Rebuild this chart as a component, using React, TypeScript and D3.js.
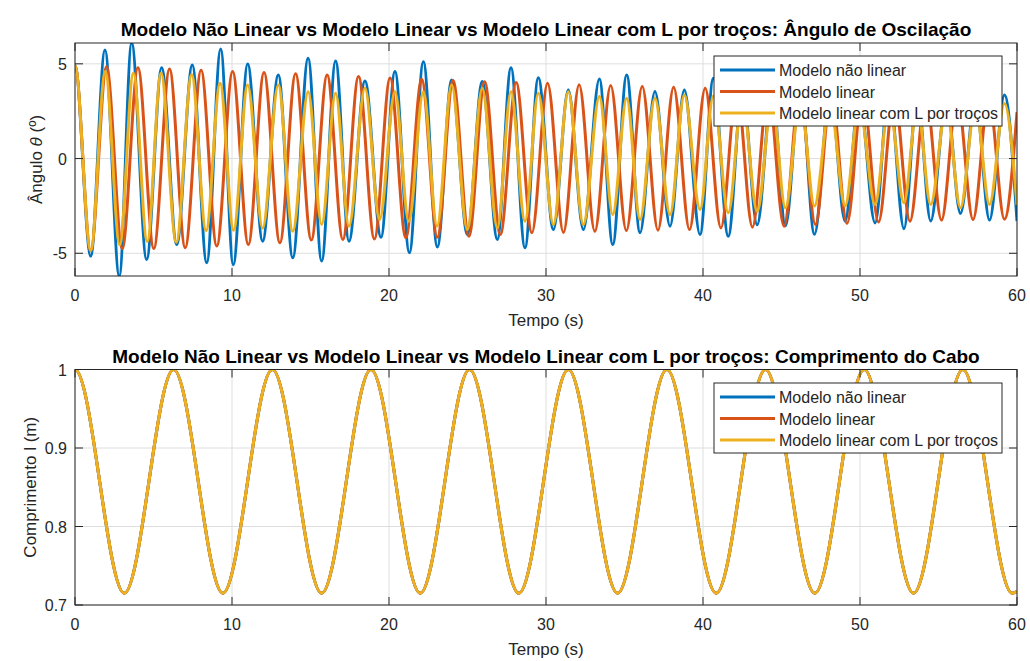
import React from 'react';
import * as d3 from 'd3';

// ---------- data ----------
const timeTicks = [0, 10, 20, 30, 40, 50, 60];
const angleTicks = [-5, 0, 5];
const lengthTicks = [0.7, 0.8, 0.9, 1];
const lengthTickLabels = ['0.7', '0.8', '0.9', '1'];
const seriesNames = ['Modelo não linear', 'Modelo linear', 'Modelo linear com L por troços'];
const seriesColors = ['#0072BD', '#D95319', '#EDB120'];

const topTitle = 'Modelo Não Linear vs Modelo Linear vs Modelo Linear com L por troços: Ângulo de Oscilação';
const bottomTitle = 'Modelo Não Linear vs Modelo Linear vs Modelo Linear com L por troços: Comprimento do Cabo';

// extrema (time s, angle º)
const nonLinearAngle: [number, number][] = [
  [0, 4.9], [1.0, -5.15], [1.91, 5.73], [2.82, -6.2], [3.61, 6.1], [4.56, -5.33], [5.52, 4.8],
  [6.48, -4.54], [7.47, 4.94], [8.39, -5.5], [9.28, 5.78], [10.08, -5.6], [11.0, 4.99],
  [11.95, -4.36], [12.95, 4.41], [13.87, -5.24], [14.85, 5.29], [15.71, -5.41], [16.6, 5.15],
  [17.45, -4.36], [18.47, 4.1], [19.49, -4.15], [20.38, 4.59], [21.3, -4.97], [22.19, 5.11],
  [23.08, -4.67], [23.99, 4.15], [24.99, -4.0], [25.94, 4.07], [26.9, -4.27], [27.77, 4.8],
  [28.66, -4.71], [29.51, 4.27], [30.47, -3.75], [31.42, 3.62], [32.38, -3.75], [33.4, 4.2],
  [34.25, -4.54], [35.14, 4.41], [35.99, -3.92], [36.94, 3.54], [37.9, -3.57], [38.81, 3.62],
  [39.81, -4.01], [40.66, 4.24], [41.61, -4.1], [42.5, 3.7], [43.45, -3.5], [44.4, 3.6],
  [45.25, -3.55], [46.2, 3.9], [47.1, -4.0], [48.1, 3.6], [49.05, -3.3], [49.95, 3.3],
  [50.96, -3.4], [51.85, 3.7], [52.8, -3.7], [53.65, 3.4], [54.5, -3.3], [55.5, 3.1],
  [56.4, -2.9], [57.35, 3.2], [58.25, -3.25], [59.2, 3.36], [60, -3.3],
];

const linearAngle: [number, number][] = [
  [0, 4.9], [1.0, -4.85], [2.01, 4.85], [3.01, -4.75], [4.01, 4.8], [5.02, -4.75], [6.02, 4.73],
  [7.02, -4.71], [8.03, 4.66], [9.03, -4.62], [10.04, 4.59], [11.04, -4.54], [12.04, 4.54],
  [13.05, -4.45], [14.05, 4.48], [15.05, -4.3], [16.06, 4.41], [17.06, -4.27], [18.06, 4.33],
  [19.07, -4.25], [20.07, 4.25], [21.07, -4.18], [22.08, 4.18], [23.08, -4.16], [24.08, 4.12],
  [25.09, -4.1], [26.09, 4.06], [27.09, -4.01], [28.1, 4.02], [29.1, -3.92], [30.1, 3.97],
  [31.11, -3.9], [32.11, 3.9], [33.11, -3.84], [34.12, 3.86], [35.12, -3.8], [36.13, 3.8],
  [37.13, -3.78], [38.13, 3.76], [39.14, -3.75], [40.14, 3.71], [41.14, -3.66], [42.15, 3.66],
  [43.15, -3.62], [44.15, 3.62], [45.16, -3.57], [46.16, 3.57], [47.16, -3.48], [48.17, 3.5],
  [49.17, -3.42], [50.17, 3.45], [51.18, -3.35], [52.18, 3.4], [53.18, -3.31], [54.19, 3.35],
  [55.19, -3.25], [56.19, 3.3], [57.2, -3.22], [58.2, 3.25], [59.2, -3.2], [60, 2.45],
];

const piecewiseAngle: [number, number][] = [
  [0, 4.9], [1.0, -4.85], [1.93, 4.6], [2.85, -4.55], [3.72, 4.5], [4.6, -4.38], [5.48, 4.5],
  [6.45, -4.42], [7.43, 4.42], [8.35, -3.8], [9.24, 3.98], [10.1, -3.78], [11.0, 3.88],
  [11.95, -3.68], [12.95, 3.88], [13.87, -3.84], [14.85, 3.53], [15.71, -3.48], [16.6, 3.45],
  [17.45, -3.57], [18.47, 3.71], [19.4, -3.22], [20.38, 3.53], [21.26, -3.31], [22.19, 3.53],
  [23.06, -3.57], [23.99, 3.88], [24.99, -3.75], [25.94, 3.71], [26.9, -3.66], [27.77, 3.53],
  [28.66, -3.31], [29.51, 3.45], [30.47, -3.48], [31.42, 3.53], [32.38, -3.48], [33.4, 3.27],
  [34.25, -2.95], [35.14, 3.18], [35.99, -3.22], [36.94, 3.18], [37.9, -2.95], [38.81, 3.36],
  [39.81, -2.69], [40.66, 3.3], [41.61, -2.86], [42.5, 3.1], [43.45, -2.8], [44.4, 3.0],
  [45.25, -2.6], [46.2, 3.1], [47.1, -2.5], [48.1, 2.9], [49.05, -2.5], [49.95, 2.8],
  [50.96, -2.42], [51.85, 2.9], [52.8, -2.33], [53.65, 2.8], [54.5, -2.42], [55.5, 2.7],
  [56.4, -2.6], [57.35, 2.8], [58.25, -2.42], [59.2, 2.9], [60, -2.45],
];

// cable length extrema (time s, length m) — identical for the three models
const cableLength: [number, number][] = [
  [0, 1.0], [3.14, 0.715], [6.28, 1.0], [9.42, 0.715], [12.57, 1.0], [15.71, 0.715],
  [18.85, 1.0], [21.99, 0.715], [25.13, 1.0], [28.27, 0.715], [31.42, 1.0], [34.56, 0.715],
  [37.7, 1.0], [40.84, 0.715], [43.98, 1.0], [47.12, 0.715], [50.27, 1.0], [53.41, 0.715],
  [56.55, 1.0], [59.69, 0.715], [60, 0.717],
];

const angleSeries = [nonLinearAngle, linearAngle, piecewiseAngle];
const lengthSeries = [cableLength, cableLength, cableLength];

// ---------- layout ----------
const W = 1030;
const H = 661;
const FONT = '"Liberation Sans", Arial, Helvetica, sans-serif';
const AX = '#262626';
const GRID = '#dedede';
const TICK = 8;
const TICK_FS = 16;
const LABEL_FS = 17;
const TITLE_FS = 19;
const LEGEND_FS = 16;

// start at rest: mirror the first extremum about t = 0 so the curve leaves t=0 with zero slope
const withRest = (pts: [number, number][]) => [[-pts[1][0], pts[1][1]] as [number, number], ...pts];

function Panel(props: {
  id: string; top: number; bottom: number; yDomain: [number, number]; yTicks: number[];
  yTickLabels: string[]; series: [number, number][][]; title: string; yLabel: React.ReactNode;
  yLabelX: number; legendTop: number;
}) {
  const { id, top, bottom, yDomain, yTicks, yTickLabels, series, title, yLabel, yLabelX, legendTop } = props;
  const x = d3.scaleLinear().domain([0, 60]).range([75, 1017]);
  const y = d3.scaleLinear().domain(yDomain).range([bottom, top]);
  const line = d3.line<[number, number]>().x(d => x(d[0])).y(d => y(d[1])).curve(d3.curveMonotoneX);
  const [x0, x1] = x.range();
  const legW = 288, legH = 70, legX = 714;
  return (
    <g>
      <defs>
        <clipPath id={id}>
          <rect x={x0} y={top} width={x1 - x0} height={bottom - top} />
        </clipPath>
      </defs>
      <rect x={x0} y={top} width={x1 - x0} height={bottom - top} fill="#fff" />
      {timeTicks.map(t => (
        <line key={'gx' + t} x1={x(t)} x2={x(t)} y1={top} y2={bottom} stroke={GRID} strokeWidth={1} />
      ))}
      {yTicks.map(v => (
        <line key={'gy' + v} x1={x0} x2={x1} y1={y(v)} y2={y(v)} stroke={GRID} strokeWidth={1} />
      ))}
      <g clipPath={`url(#${id})`}>
        {series.map((s, i) => (
          <path key={i} d={line(withRest(s)) || ''} fill="none" stroke={seriesColors[i]}
            strokeWidth={3} strokeLinejoin="round" />
        ))}
      </g>
      <rect x={x0} y={top} width={x1 - x0} height={bottom - top} fill="none" stroke={AX} strokeWidth={1} />
      {timeTicks.map(t => (
        <g key={'tx' + t}>
          <line x1={x(t)} x2={x(t)} y1={bottom} y2={bottom - TICK} stroke={AX} />
          <line x1={x(t)} x2={x(t)} y1={top} y2={top + TICK} stroke={AX} />
          <text x={x(t)} y={bottom + 25} fontSize={TICK_FS} textAnchor="middle" fill={AX} fontFamily={FONT}>{t}</text>
        </g>
      ))}
      {yTicks.map((v, i) => (
        <g key={'ty' + v}>
          <line x1={x0} x2={x0 + TICK} y1={y(v)} y2={y(v)} stroke={AX} />
          <line x1={x1} x2={x1 - TICK} y1={y(v)} y2={y(v)} stroke={AX} />
          <text x={x0 - 8} y={y(v) + 6} fontSize={TICK_FS} textAnchor="end" fill={AX} fontFamily={FONT}>{yTickLabels[i]}</text>
        </g>
      ))}
      <text x={(x0 + x1) / 2} y={bottom + 50} fontSize={LABEL_FS} textAnchor="middle" fill={AX} fontFamily={FONT}>Tempo (s)</text>
      <text x={(x0 + x1) / 2} y={top - 7} fontSize={TITLE_FS} fontWeight="bold" textAnchor="middle" fill="#000" fontFamily={FONT}>{title}</text>
      <text transform={`translate(${yLabelX},${(top + bottom) / 2}) rotate(-90)`} fontSize={LABEL_FS} textAnchor="middle" fill={AX} fontFamily={FONT}>{yLabel}</text>
      <g transform={`translate(${legX},${legendTop})`}>
        <rect x={0} y={0} width={legW} height={legH} fill="#fff" stroke={AX} strokeWidth={1} />
        {seriesNames.map((n, i) => (
          <g key={n} transform={`translate(0,${14 + i * 21.5})`}>
            <line x1={6} x2={61} y1={0} y2={0} stroke={seriesColors[i]} strokeWidth={3} />
            <text x={65} y={6} fontSize={LEGEND_FS} fill={AX} fontFamily={FONT}>{n}</text>
          </g>
        ))}
      </g>
    </g>
  );
}

export default function App() {
  return (
    <svg width={W} height={H} style={{ position: 'absolute', left: 0, top: 0, background: '#fff' }}>
      <rect x={0} y={0} width={W} height={H} fill="#fff" />
      <Panel id="clipTop" top={43} bottom={276} yDomain={[-6.2, 6.1]} yTicks={angleTicks}
        yTickLabels={angleTicks.map(String)} series={angleSeries} title={topTitle}
        yLabel={<>Ângulo <tspan fontStyle="italic">θ</tspan> (º)</>} yLabelX={42} legendTop={56} />
      <Panel id="clipBottom" top={369.5} bottom={605} yDomain={[0.7, 1]} yTicks={lengthTicks}
        yTickLabels={lengthTickLabels} series={lengthSeries} title={bottomTitle}
        yLabel={'Comprimento l (m)'} yLabelX={36} legendTop={383} />
    </svg>
  );
}
